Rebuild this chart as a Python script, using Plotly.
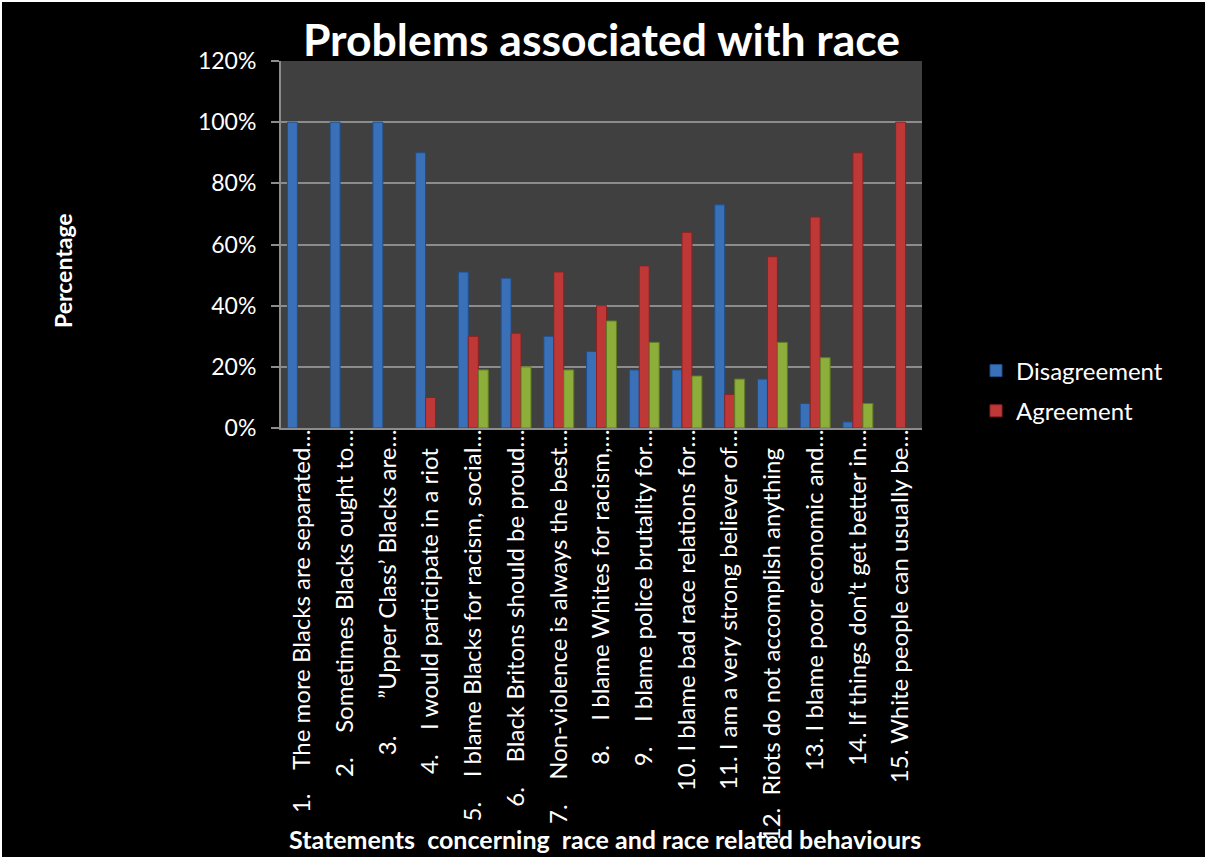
import plotly.graph_objects as go

NB = "\u00a0"

statements = [
    "1." + NB * 4 + "The more Blacks are separated…",
    "2." + NB * 4 + "Sometimes Blacks ought to…",
    "3." + NB * 6 + "”Upper Class’ Blacks are…",
    "4." + NB * 4 + "I would participate in a riot" + NB * 3,
    "5." + NB * 4 + "I blame Blacks for racism, social…",
    "6." + NB * 4 + "Black Britons should be proud…",
    "7." + NB * 4 + "Non-violence is always the best…",
    "8." + NB * 4 + "I blame Whites for racism,…",
    "9." + NB * 4 + "I blame police brutality for…",
    "10." + NB + "I blame bad race relations for…",
    "11." + NB + "I am a very strong believer of…",
    "12." + NB * 2 + "Riots do not accomplish anything" + NB * 3,
    "13." + NB + "I blame poor economic and…",
    "14." + NB + "If things don’t get better in…",
    "15." + NB + "White people can usually be…",
]

disagreement = [100, 100, 100, 90, 51, 49, 30, 25, 19, 19, 73, 16, 8, 2, None]
agreement = [None, None, None, 10, 30, 31, 51, 40, 53, 64, 11, 56, 69, 90, 100]
undecided = [None, None, None, None, 19, 20, 19, 35, 28, 17, 16, 28, 23, 8, None]

y_ticks = [0, 20, 40, 60, 80, 100, 120]

FONT = "Lato"

fig = go.Figure()
fig.add_trace(go.Bar(
    name="Disagreement", x=statements, y=disagreement, legendgroup="d",
    marker=dict(color="#3A70B8", line=dict(color="#1F4F8C", width=1)),
))
fig.add_trace(go.Bar(
    name="Agreement", x=statements, y=agreement, legendgroup="a",
    marker=dict(color="#BF3838", line=dict(color="#8A2222", width=1)),
))
fig.add_trace(go.Bar(
    name="Undecided", x=statements, y=undecided, showlegend=False,
    marker=dict(color="#8DAE3A", line=dict(color="#5F7C22", width=1)),
))

W, H = 1205, 857
L, R, T, B = 281, 283, 61, 429
pw, ph = W - L - R, H - T - B


def px(xp):
    return (xp - L) / pw


def py(yp):
    return (H - B - yp) / ph


fig.update_layout(
    width=W, height=H,
    margin=dict(l=L, r=R, t=T, b=B),
    paper_bgcolor="#000000",
    plot_bgcolor="#404040",
    barmode="group",
    bargap=0.3,
    bargroupgap=0.0,
    font=dict(family=FONT, color="#FFFFFF", size=22),
    title=dict(
        text="<b>Problems associated with race</b>",
        x=0.5, xref="paper", xanchor="center",
        y=1 - 40 / H, yref="container", yanchor="middle",
        font=dict(family=FONT, size=44.5, color="#FFFFFF"),
    ),
    legend=dict(
        x=px(976), y=py(391), xanchor="left", yanchor="middle",
        font=dict(family=FONT, size=24, color="#FFFFFF"),
        bgcolor="rgba(0,0,0,0)",
        traceorder="grouped", tracegroupgap=6,
    ),
    xaxis=dict(
        tickangle=-90,
        showgrid=False,
        showline=True, linecolor="#8C8C8C", linewidth=2,
        ticks="",
        ticklabelstandoff=-10,
        tickfont=dict(family=FONT, size=24, color="#FFFFFF"),
        automargin=False,
    ),
    yaxis=dict(
        range=[0, 120],
        tickvals=y_ticks,
        ticktext=[f"{v}%" for v in y_ticks],
        showgrid=True, gridcolor="#8C8C8C", gridwidth=2,
        showline=True, linecolor="#8C8C8C", linewidth=2,
        ticks="outside", ticklen=8, tickcolor="#8C8C8C", tickwidth=2,
        ticklabelstandoff=10,
        tickfont=dict(family=FONT, size=23, color="#FFFFFF"),
        automargin=False,
        zeroline=False,
    ),
    annotations=[
        dict(
            text="<b>Percentage</b>", textangle=-90,
            x=px(63), y=py(271), xref="paper", yref="paper",
            xanchor="center", yanchor="middle", showarrow=False,
            font=dict(family=FONT, size=23, color="#FFFFFF"),
        ),
        dict(
            text="<b>Statements" + NB * 2 + "concerning" + NB * 2 + "race and race related behaviours</b>",
            x=px(605), y=py(839), xref="paper", yref="paper",
            xanchor="center", yanchor="middle", showarrow=False,
            font=dict(family=FONT, size=25, color="#FFFFFF"),
        ),
    ],
    shapes=[
        # thin white frame at the top and left edges of the canvas
        dict(type="rect", xref="paper", yref="paper",
             x0=px(0), x1=px(W), y0=py(0), y1=py(2),
             fillcolor="#FFFFFF", line=dict(width=0), layer="above"),
        dict(type="rect", xref="paper", yref="paper",
             x0=px(0), x1=px(2), y0=py(0), y1=py(H),
             fillcolor="#FFFFFF", line=dict(width=0), layer="above"),
    ],
)

fig.write_html("out.html")
